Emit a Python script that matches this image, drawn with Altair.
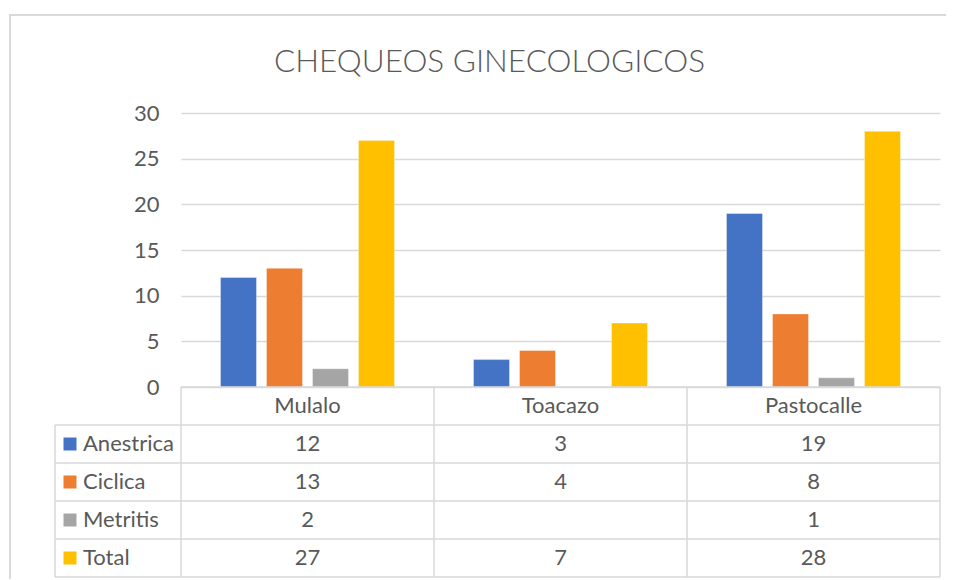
import altair as alt
import pandas as pd

# ---- data ----
categories = ["Mulalo", "Toacazo", "Pastocalle"]
series = ["Anestrica", "Ciclica", "Metritis", "Total"]
anestrica = [12, 3, 19]
ciclica = [13, 4, 8]
metritis = [2, None, 1]
total = [27, 7, 28]
colors = ["#4472C4", "#ED7D31", "#A5A5A5", "#FFC000"]
title_text = "CHEQUEOS GINECOLOGICOS"
y_ticks = [0, 5, 10, 15, 20, 25, 30]
header_row = "_header"

series_values = {"Anestrica": anestrica, "Ciclica": ciclica, "Metritis": metritis, "Total": total}
rows = [header_row] + series

records = []
for s in series:
    for c, v in zip(categories, series_values[s]):
        records.append({"category": c, "series": s, "value": v,
                        "label": "" if v is None else str(v)})
df = pd.DataFrame(records)
df_cats = pd.DataFrame({"category": categories, "row": header_row})
df_series = pd.DataFrame({"series": series, "row": series})
df_rows = pd.DataFrame({"row": series})

# ---- style ----
FONT = "Lato"
TXT = "#595959"
GRID = "#D9D9D9"
FS = 22
W, H = 759, 464
BAR_H = 274
LEFT_COL = -126

x_scale = alt.Scale(domain=categories, paddingInner=0, paddingOuter=0)
row_scale = alt.Scale(domain=rows, range=[BAR_H, H], paddingInner=0, paddingOuter=0)
color_scale = alt.Scale(domain=series, range=colors)

frame = alt.Chart(pd.DataFrame({"k": [0]})).mark_rect(
    filled=False, stroke=GRID, strokeWidth=2
).encode(x=alt.value(-171), x2=alt.value(W + 60), y=alt.value(-98), y2=alt.value(H + 30))

title = alt.Chart(pd.DataFrame({"t": [title_text]})).mark_text(
    font=FONT, fontSize=31.5, fontWeight=300, color=TXT, align="center", baseline="alphabetic"
).encode(text="t:N", x=alt.value(308.5), y=alt.value(-41))

bars = alt.Chart(df).mark_bar(stroke="white", strokeWidth=0.6, strokeOpacity=0.6).encode(
    x=alt.X("category:N", scale=x_scale, axis=None, sort=categories),
    xOffset=alt.XOffset("series:N", scale=alt.Scale(domain=series, paddingInner=10 / 46, paddingOuter=0.859)),
    y=alt.Y("value:Q", scale=alt.Scale(domain=[0, 30], range=[BAR_H, 0], nice=False),
            axis=alt.Axis(values=y_ticks, grid=True, gridColor=GRID, gridWidth=1.5, domain=False,
                          ticks=False, tickSize=0, labelPadding=22, labelFont=FONT,
                          labelFontSize=FS, labelColor=TXT, title=None)),
    color=alt.Color("series:N", scale=color_scale, legend=None),
)

line_kw = dict(color=GRID, strokeWidth=1.5)

# horizontal table lines
h_lines = alt.Chart(df_rows).mark_rule(**line_kw).encode(
    y=alt.Y("row:N", scale=row_scale, axis=None, bandPosition=0),
    x=alt.value(LEFT_COL), x2=alt.value(W),
)
h_header = alt.Chart(pd.DataFrame({"row": [header_row]})).mark_rule(**line_kw).encode(
    y=alt.Y("row:N", scale=row_scale, axis=None, bandPosition=0),
    x=alt.value(0), x2=alt.value(W),
)
h_bottom = alt.Chart(pd.DataFrame({"row": [series[-1]]})).mark_rule(**line_kw).encode(
    y=alt.Y("row:N", scale=row_scale, axis=None, bandPosition=1),
    x=alt.value(LEFT_COL), x2=alt.value(W),
)
# vertical table lines
v_lines = alt.Chart(df_cats).mark_rule(**line_kw).encode(
    x=alt.X("category:N", scale=x_scale, axis=None, bandPosition=0),
    y=alt.value(BAR_H), y2=alt.value(H),
)
v_right = alt.Chart(pd.DataFrame({"category": [categories[-1]]})).mark_rule(**line_kw).encode(
    x=alt.X("category:N", scale=x_scale, axis=None, bandPosition=1),
    y=alt.value(BAR_H), y2=alt.value(H),
)
v_left = alt.Chart(pd.DataFrame({"row": [series[0]]})).mark_rule(**line_kw).encode(
    y=alt.Y("row:N", scale=row_scale, axis=None, bandPosition=0),
    y2=alt.value(H), x=alt.value(LEFT_COL),
)

txt_kw = dict(font=FONT, fontSize=FS, color=TXT, baseline="middle")

header_text = alt.Chart(df_cats).mark_text(align="center", **txt_kw).encode(
    x=alt.X("category:N", scale=x_scale, axis=None),
    y=alt.Y("row:N", scale=row_scale, axis=None),
    text="category:N",
)
cell_text = alt.Chart(df).transform_filter("datum.label != ''").mark_text(align="center", **txt_kw).encode(
    x=alt.X("category:N", scale=x_scale, axis=None),
    y=alt.Y("series:N", scale=row_scale, axis=None),
    text="label:N",
)
legend_text = alt.Chart(df_series).mark_text(align="left", **txt_kw).encode(
    x=alt.value(-98),
    y=alt.Y("row:N", scale=row_scale, axis=None),
    text="series:N",
)
legend_sq = alt.Chart(df_series).mark_square(size=169, opacity=1).encode(
    x=alt.value(-111),
    y=alt.Y("row:N", scale=row_scale, axis=None),
    color=alt.Color("series:N", scale=color_scale, legend=None),
)

chart = alt.layer(
    frame, title, bars, h_lines, h_header, h_bottom, v_lines, v_right, v_left,
    header_text, cell_text, legend_text, legend_sq,
).resolve_scale(y="independent").properties(
    width=W, height=H,
    autosize=alt.AutoSizeParams(type="none"),
    padding={"left": 173, "top": 105, "right": 6, "bottom": 2},
).configure_view(stroke=None)

chart.save("out.html", embed_options={"renderer": "svg", "actions": False})
